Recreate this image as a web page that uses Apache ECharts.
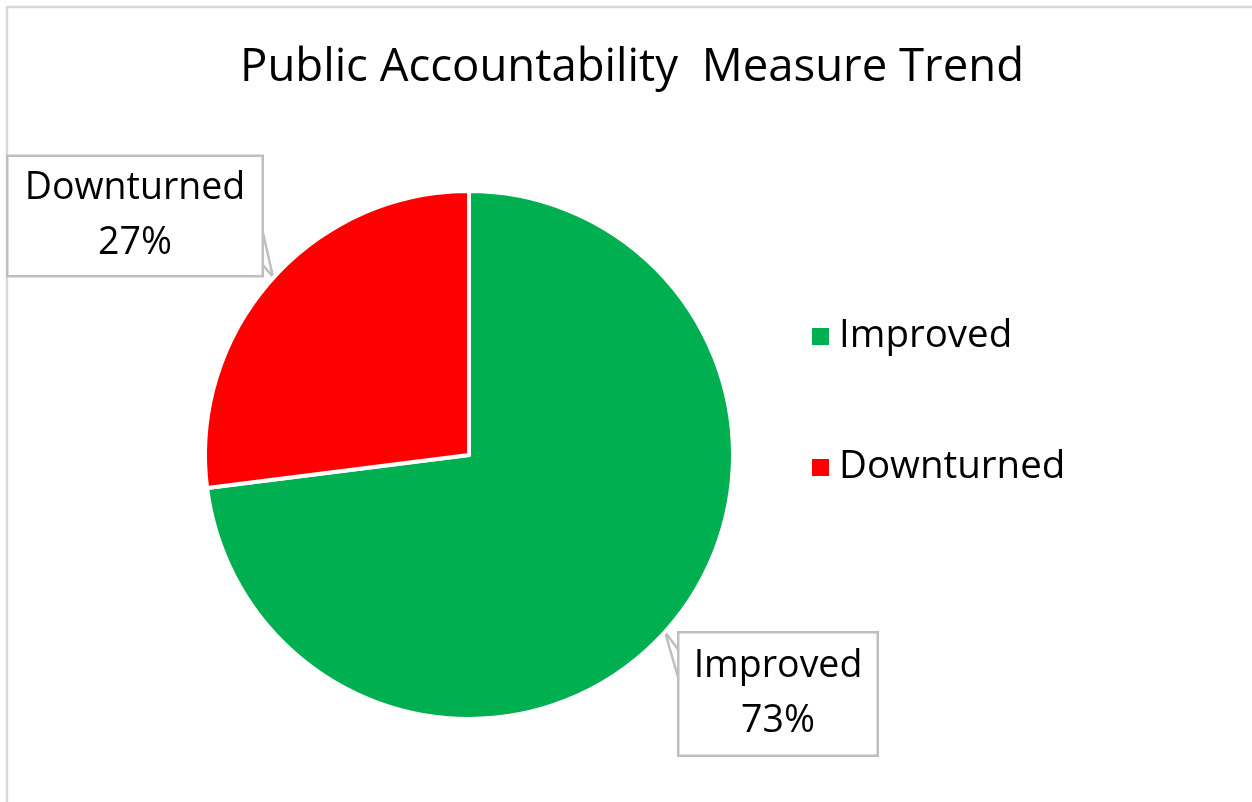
<!DOCTYPE html>
<html>
<head>
<meta charset="utf-8">
<script src="https://cdn.jsdelivr.net/npm/echarts@6/dist/echarts.min.js"></script>
<style>
html,body{margin:0;padding:0;background:#fff;}
#main{width:1252px;height:802px;}
</style>
</head>
<body>
<div id="main"></div>
<script>
const titleText = 'Public Accountability  Measure Trend';
const categories = ['Improved', 'Downturned'];
const values = [73, 27];
const colors = ['#00B050', '#FF0000'];

const FONT = 'Open Sans';
const chart = echarts.init(document.getElementById('main'));

const labelPos = [
  { x: 778, y: 694, w: 197, h: 116, line: [[680, 652], [665, 632], [680, 684]] },
  { x: 135, y: 216, w: 253, h: 113, line: [[261, 224], [273, 277], [257, 258]] }
];

chart.setOption({
  backgroundColor: '#fff',
  animation: false,
  graphic: [{
    type: 'rect',
    shape: { x: 7, y: 7, width: 1300, height: 850 },
    style: { fill: 'none', stroke: '#D9D9D9', lineWidth: 2.5 },
    silent: true
  }],
  title: {
    text: titleText,
    left: 627,
    textAlign: 'center',
    top: 40,
    textStyle: { fontFamily: FONT, fontSize: 45.5, fontWeight: 'normal', color: '#000' }
  },
  legend: {
    orient: 'vertical',
    left: 805,
    top: 312,
    itemWidth: 19,
    itemHeight: 19,
    itemGap: 92,
    icon: 'rect',
    data: categories,
    textStyle: { fontFamily: FONT, fontSize: 38.5, color: '#000', padding: [0, 0, 0, 4] }
  },
  series: [{
    type: 'pie',
    center: [469, 455],
    radius: 264,
    startAngle: 90,
    clockwise: true,
    data: categories.map((c, i) => ({ name: c, value: values[i], itemStyle: { color: colors[i] } })),
    itemStyle: { borderColor: '#fff', borderWidth: 4 },
    label: {
      show: true,
      formatter: p => p.name + '\n' + Math.round(p.percent) + '%',
      fontFamily: FONT,
      fontSize: 37.5,
      lineHeight: 55,
      color: '#000',
      align: 'center',
      verticalAlign: 'middle',
      backgroundColor: '#fff',
      borderColor: '#BFBFBF',
      borderWidth: 2.5,
      padding: [5, 0, 0, 0]
    },
    labelLine: { show: true, lineStyle: { color: '#BFBFBF', width: 2.5 }, length: 10, length2: 10 },
    labelLayout: function (params) {
      const p = labelPos[params.dataIndex];
      return { x: p.x, y: p.y, align: 'center', verticalAlign: 'middle', width: p.w, height: p.h, labelLinePoints: p.line };
    }
  }]
});
</script>
</body>
</html>
